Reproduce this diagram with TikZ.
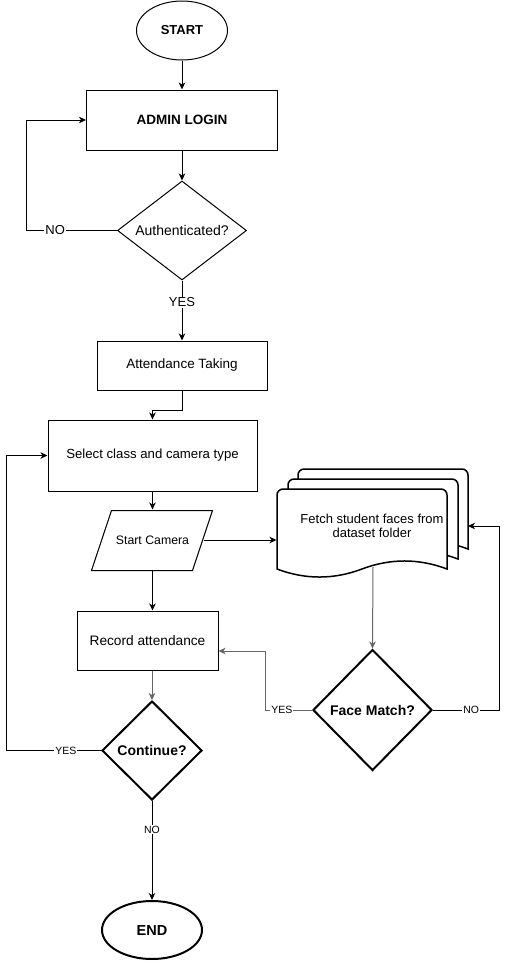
\documentclass[tikz,border=0pt]{standalone}
\usepackage{fontspec}
\setmainfont{Liberation Sans}
\usetikzlibrary{shapes.geometric,arrows.meta}
\begin{document}
\begin{tikzpicture}[x=1pt,y=-1pt,line width=1pt,
  arr/.style={-{Stealth[length=7pt,width=6.5pt,inset=2pt]}},
  fa/.style={font=\fontsize{13.2}{16}\selectfont},
  fb/.style={font=\fontsize{14}{17}\selectfont\bfseries},
  box/.style={draw,rectangle,inner sep=0pt,fa},
  dia/.style={draw,diamond,inner sep=0pt},
  lbl/.style={fill=white,inner sep=1pt,font=\fontsize{10.5}{12}\selectfont},
  lblb/.style={fill=white,inner sep=1pt,font=\fontsize{13}{15}\selectfont},
  thick2/.style={line width=2pt},
  grayline/.style={draw=black!60}]
\useasboundingbox (0,0) rectangle (507,962);

% nodes
\node[draw,ellipse,inner sep=0pt,minimum width=91pt,minimum height=59pt,font=\fontsize{13}{16}\selectfont\bfseries] (start) at (182,30.5) {START};
\node[box,minimum width=191pt,minimum height=60pt,font=\fontsize{13.5}{16}\selectfont\bfseries] (admin) at (182,120) {ADMIN LOGIN};
\node[dia,aspect=1.3,minimum width=129pt,minimum height=99pt,font=\fontsize{14}{17}\selectfont] (auth) at (182,230.5) {Authenticated?};
\node[box,minimum width=170pt,minimum height=49pt,font=\fontsize{13.5}{16}\selectfont] (att) at (182,365.5) {Attendance Taking};
\node[box,minimum width=209pt,minimum height=71pt] (sel) at (152.5,455.5) {Select class and camera type};
\node[inner sep=0pt,minimum width=101pt,minimum height=60pt,font=\fontsize{12.3}{15}\selectfont] (cam) at (152.5,540) {Start Camera};
\draw (cam.south west) ++(-10,0) -- ++(20,-60) -- ++(101,0) -- ++(-20,60) -- cycle;

% document stack
\foreach \dx/\dy in {21/-20,11/-10,0/0}{
  \begin{scope}[shift={(\dx,\dy)}]
  \draw[line width=1.5pt,fill=white] (277,569) -- (277,495) .. controls (277,491.7) and (279.7,489) .. (283,489)
    -- (441,489) .. controls (444.3,489) and (447,491.7) .. (447,495) -- (447,569)
    .. controls (418.7,558.3) and (390.3,558.3) .. (362,569)
    .. controls (333.7,579.7) and (305.3,579.7) .. (277,569) -- cycle;
  \end{scope}}
\node[inner sep=0pt,minimum width=190pt,minimum height=74pt,align=center,font=\fontsize{13}{14}\selectfont] (doc) at (372,526) {Fetch student faces from\\dataset folder};
\coordinate (docb) at (373,567);
\coordinate (stackr) at (468,526);

\node[box,minimum width=141pt,minimum height=59pt,font=\fontsize{13.7}{16}\selectfont] (rec) at (147.5,640.5) {Record attendance};
\node[dia,thick2,minimum width=119pt,minimum height=121pt,fb] (face) at (372.5,710) {Face Match?};
\node[dia,thick2,minimum width=100pt,minimum height=99pt,fb] (cont) at (152,750.5) {Continue?};
\node[draw,ellipse,thick2,inner sep=0pt,minimum width=100pt,minimum height=58pt,font=\fontsize{14.5}{17}\selectfont\bfseries] (end) at (152,930) {END};

% connectors
\draw[arr] (start) -- (admin);
\draw[arr] (admin) -- (auth);
\draw[arr] (auth.west) -- node[lblb,pos=0.68]{NO} ++(-91,0) |- (admin.west);
\draw[arr] (auth) -- node[lblb,pos=0.36]{YES} (att);
\draw[arr] (att.south) -- ++(0,20) -| (sel.north);
\draw[arr] (sel.south) -- (sel.south |- cam.north);
\draw[arr] (cam.east) -- (cam.east -| doc.west);
\draw[arr] (cam.south) -- (cam.south |- rec.north);
\draw[arr,grayline] (cont.north |- rec.south) -- (cont.north);
\draw[arr] (cont.west) -- node[lbl,pos=0.37]{YES} ++(-95,0) |- (sel.west);
\draw[arr] (cont) -- node[lbl,pos=0.29]{NO} (end);
\draw[arr,grayline] (docb) -- (face.north);
\draw[arr] (face.east) -- node[lbl,pos=0.58]{NO} ++(66,0) |- (stackr);
\draw[arr,grayline] (face.west) -- node[lbl,pos=0.64]{YES} ++(-47,0) |- ([yshift=-10.5pt]rec.east);
\end{tikzpicture}
\end{document}
